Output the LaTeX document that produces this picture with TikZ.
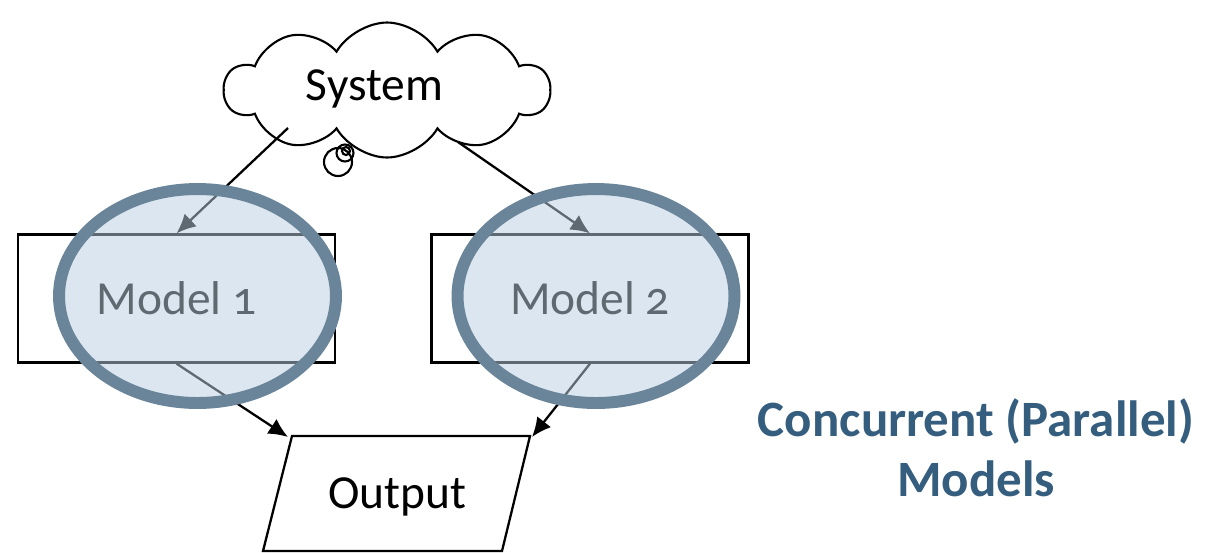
\documentclass[tikz,border=0pt]{standalone}
\usepackage{fontspec}
\setmainfont{Carlito}
\usetikzlibrary{shapes.symbols}
\usetikzlibrary{arrows.meta}
\pgfdeclarelayer{edgelayer}
\pgfdeclarelayer{nodelayer}
\pgfsetlayers{edgelayer,nodelayer,main}
\definecolor{ovalfill}{RGB}{186,206,225}
\definecolor{ovalline}{RGB}{106,133,153}
\definecolor{titleblue}{RGB}{52,93,126}
\tikzstyle{none}=[inner sep=0pt]
\tikzstyle{thought}=[cloud,cloud puffs=10,cloud puff arc=120,aspect=2.4,draw=black,line width=1.2pt,minimum width=6.5cm,minimum height=2.7cm]
\tikzstyle{model}=[rectangle,draw=black,line width=1.3pt,minimum width=6.34cm,minimum height=2.56cm,font=\fontsize{27}{32}\selectfont\addfontfeatures{Numbers=OldStyle}]
\tikzstyle{label}=[inner sep=0pt,anchor=base,font=\fontsize{27}{32}\selectfont]
\tikzstyle{oval}=[fill=ovalfill,fill opacity=0.51,draw=ovalline,draw opacity=1,line width=6.8pt]
\tikzstyle{transition}=[-{Latex[length=11pt,width=10pt]},draw=black,line width=1.3pt]

\begin{document}
\begin{tikzpicture}[x=0.02cm,y=-0.02cm]
	\useasboundingbox (0,0) rectangle (1212,552);
	\begin{pgfonlayer}{nodelayer}
		\node [style=thought] (sys) at (387, 90) {};
		\node [style=label] (systext) at (374.5, 100) {System};
		\node [style=model] (m1) at (176.5, 298.5) {Model 1};
		\node [style=model] (m2) at (590, 298.5) {Model 2};
		\draw [line width=1.3pt] (292, 436) -- (530, 436) -- (502, 551) -- (263, 551) -- cycle;
		\node [style=label] (out) at (397, 508) {Output};
		\node [inner sep=0pt,anchor=base,align=center,text=titleblue,font=\fontsize{29}{34}\selectfont\bfseries] (title) at (976, 496) {Concurrent (Parallel)\\Models};
		\coordinate (s1) at (288, 128);
		\coordinate (s2) at (458, 142);
		\coordinate (o1) at (288, 437);
		\coordinate (o2) at (532, 437);
	\end{pgfonlayer}
	\begin{pgfonlayer}{edgelayer}
		\draw [line width=1.2pt] (338, 162) circle [radius=0.28cm];
		\draw [line width=1.2pt] (345, 153) circle [radius=0.17cm];
		\draw [line width=1.2pt] (346, 151) circle [radius=0.08cm];
		\draw [style=transition] (s1) to (m1.north);
		\draw [style=transition] (s2) to (m2.north);
		\draw [style=transition] (m1.south) to (o1);
		\draw [style=transition] (m2.south) to (o2);
	\end{pgfonlayer}
	\draw [style=oval] (197.5, 296) ellipse [x radius=2.77cm, y radius=2.14cm];
	\draw [style=oval] (596, 296) ellipse [x radius=2.77cm, y radius=2.14cm];
\end{tikzpicture}
\end{document}
